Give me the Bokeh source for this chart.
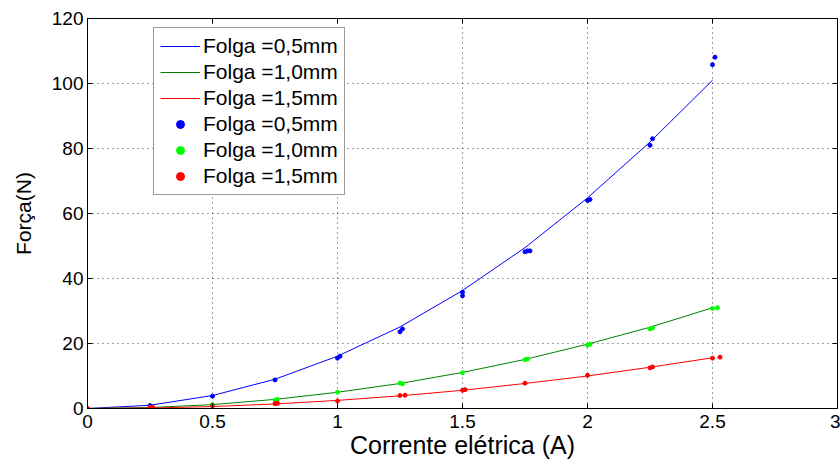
from bokeh.plotting import figure
from bokeh.models import LinearAxis, Range1d, Legend, LegendItem, FixedTicker
from bokeh.embed import file_html
from bokeh.resources import INLINE

# Fitted curves (force in N vs current in A)
x_fit = [0, 0.25, 0.5, 0.75, 1.0, 1.25, 1.5, 1.75, 2.0, 2.25, 2.5]
fit_05 = [0, 1.0, 4.0, 9.0, 16.1, 25.1, 36.3, 49.5, 64.8, 82.0, 101.0]
fit_10 = [0, 0.3, 1.2, 2.8, 5.0, 7.7, 11.1, 15.1, 19.8, 25.0, 31.0]
fit_15 = [0, 0.15, 0.6, 1.4, 2.5, 3.9, 5.6, 7.7, 10.0, 12.7, 15.6]

# Measured points
x_05 = [0, 0.25, 0.5, 0.75, 1.0, 1.01, 1.25, 1.26, 1.5, 1.5, 1.75, 1.76, 1.77, 2.0, 2.01, 2.25, 2.26, 2.5, 2.51]
y_05 = [0, 0.9, 3.8, 8.8, 15.5, 16.1, 23.6, 24.5, 34.7, 35.8, 48.2, 48.5, 48.5, 64.0, 64.3, 81.0, 83.0, 105.8, 108.1]

x_10 = [0, 0.25, 0.5, 0.75, 0.76, 1.0, 1.25, 1.26, 1.5, 1.75, 1.76, 2.0, 2.01, 2.25, 2.26, 2.5, 2.52]
y_10 = [0, 0.3, 1.2, 2.6, 2.8, 5.0, 7.8, 7.6, 11.0, 15.0, 15.2, 19.5, 19.8, 24.5, 24.8, 30.8, 31.0]

x_15 = [0, 0.25, 0.26, 0.5, 0.75, 0.76, 1.0, 1.25, 1.27, 1.5, 1.51, 1.75, 2.0, 2.25, 2.26, 2.5, 2.53]
y_15 = [0, 0.3, 0.4, 0.8, 1.5, 1.6, 2.3, 4.0, 4.1, 5.6, 5.8, 7.8, 10.2, 12.5, 12.8, 15.5, 15.8]

labels = ["Folga =0,5mm", "Folga =1,0mm", "Folga =1,5mm"]
x_ticks = [0, 0.5, 1, 1.5, 2, 2.5, 3]
x_tick_labels = ["0", "0.5", "1", "1.5", "2", "2.5", "3"]
y_ticks = [0, 20, 40, 60, 80, 100, 120]

FONT = "Liberation Sans"

p = figure(width=840, height=464, x_range=Range1d(0, 3), y_range=Range1d(0, 120),
           output_backend="svg", toolbar_location=None,
           min_border_left=87, min_border_right=3, min_border_top=18, min_border_bottom=56)
p.background_fill_color = "white"
p.border_fill_color = "white"
p.outline_line_color = "black"
p.outline_line_alpha = 1.0

xt = FixedTicker(ticks=x_ticks)
yt = FixedTicker(ticks=y_ticks)
p.xaxis.ticker = xt
p.yaxis.ticker = yt
p.xaxis.major_label_overrides = {t: s for t, s in zip(x_ticks, x_tick_labels)}

for ax in (p.xaxis[0], p.yaxis[0]):
    ax.major_tick_in = 5
    ax.major_tick_out = 0
    ax.minor_tick_line_color = None
    ax.axis_line_color = "black"
    ax.major_tick_line_color = "black"
    ax.major_label_text_font = FONT
    ax.major_label_text_font_size = "19px"
    ax.major_label_text_color = "black"
    ax.axis_label_text_font = FONT
    ax.axis_label_text_font_style = "normal"
    ax.axis_label_text_color = "black"

p.xaxis.axis_label = "Corrente elétrica (A)"
p.xaxis.axis_label_text_font_size = "25px"
p.xaxis.major_label_standoff = 6
p.xaxis.axis_label_standoff = 0
p.yaxis.axis_label = "Força(N)"
p.yaxis.axis_label_text_font_size = "21px"
p.yaxis.major_label_standoff = 4
p.yaxis.axis_label_standoff = 14

# tick marks on the top and right edges of the box (no labels drawn)
top = LinearAxis(ticker=xt, major_label_text_font_size="1px", major_label_text_color=None,
                 major_tick_in=5, major_tick_out=0, minor_tick_line_color=None,
                 major_label_standoff=0, axis_line_color="black")
right = LinearAxis(ticker=yt, major_label_text_font_size="1px", major_label_text_color=None,
                   major_tick_in=5, major_tick_out=0, minor_tick_line_color=None,
                   major_label_standoff=0, axis_line_color="black")
p.add_layout(top, "above")
p.add_layout(right, "right")

for g in (p.xgrid[0], p.ygrid[0]):
    g.grid_line_color = "#000000"
    g.grid_line_alpha = 0.75
    g.grid_line_dash = "1 4"
    g.grid_line_width = 1
p.xgrid.ticker = xt
p.ygrid.ticker = yt

line_colors = ["#0000ff", "#008000", "#ff0000"]
dot_colors = ["#0000ff", "#00ff00", "#ff0000"]

line_renderers = []
for ys, c in zip([fit_05, fit_10, fit_15], line_colors):
    line_renderers.append(p.line(x_fit, ys, line_color=c, line_width=1))

dot_renderers = []
for xs, ys, c in zip([x_05, x_10, x_15], [y_05, y_10, y_15], dot_colors):
    dot_renderers.append(p.scatter(xs, ys, marker="circle", size=4, fill_color=c, line_color=c))

items = [LegendItem(label=l, renderers=[r]) for l, r in zip(labels, line_renderers)]
items += [LegendItem(label=l, renderers=[r]) for l, r in zip(labels, dot_renderers)]

legend = Legend(items=items, location=(66, 213))
legend.label_text_font = FONT
legend.label_text_font_size = "21px"
legend.label_text_color = "black"
legend.glyph_width = 40
legend.glyph_height = 20
legend.label_height = 20
legend.label_standoff = 3
legend.spacing = 2
legend.padding = 6
legend.margin = 0
legend.border_line_color = "#333333"
legend.border_line_width = 1
legend.background_fill_color = "white"
legend.background_fill_alpha = 1.0
p.add_layout(legend)

open("out.html", "w").write(file_html(p, INLINE))
